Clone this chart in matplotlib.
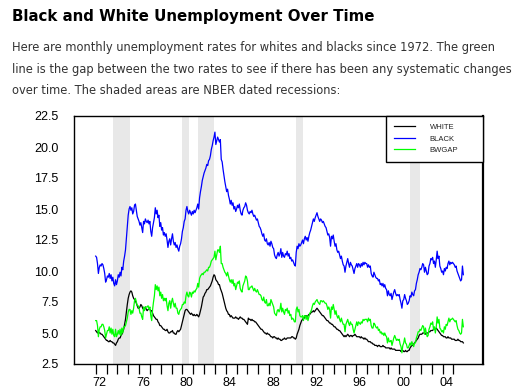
import numpy as np
import pandas as pd
import matplotlib
matplotlib.use("Agg")
import matplotlib.pyplot as plt
import matplotlib.transforms as mtrans

#%% data (monthly rates, Jan 1972 - Dec 2005)
white = [
    5.2, 5.1, 5.0, 5.1, 5.0, 5.0, 4.9, 4.9, 4.8, 4.7, 4.6, 4.5,
    4.4, 4.4, 4.3, 4.3, 4.4, 4.3, 4.3, 4.2, 4.2, 4.1, 4.0, 4.2,
    4.3, 4.5, 4.6, 4.6, 4.8, 4.9, 5.1, 5.3, 5.7, 6.1, 6.7, 7.3,
    7.8, 8.1, 8.3, 8.4, 8.3, 8.0, 7.8, 7.7, 7.6, 7.4, 7.2, 7.0,
    7.0, 7.1, 7.3, 7.2, 7.0, 6.9, 7.0, 7.1, 6.9, 6.8, 6.9, 6.9,
    6.9, 6.8, 6.8, 6.6, 6.4, 6.3, 6.2, 6.1, 6.1, 5.9, 5.8, 5.6,
    5.6, 5.5, 5.4, 5.3, 5.3, 5.2, 5.2, 5.3, 5.1, 5.0, 5.0, 5.1,
    5.1, 5.2, 5.0, 5.0, 4.9, 4.9, 5.1, 5.2, 5.1, 5.2, 5.3, 5.6,
    5.9, 6.2, 6.5, 6.8, 6.9, 6.9, 6.8, 6.7, 6.6, 6.5, 6.6, 6.5,
    6.4, 6.5, 6.4, 6.4, 6.5, 6.4, 6.3, 6.5, 6.8, 7.1, 7.5, 7.9,
    8.0, 8.2, 8.3, 8.5, 8.5, 8.6, 8.7, 8.8, 9.0, 9.2, 9.5, 9.7,
    9.6, 9.3, 9.2, 9.1, 8.9, 8.9, 8.6, 8.4, 8.2, 7.9, 7.6, 7.3,
    7.0, 6.8, 6.7, 6.5, 6.5, 6.3, 6.4, 6.3, 6.2, 6.2, 6.2, 6.3,
    6.2, 6.2, 6.1, 6.2, 6.3, 6.2, 6.2, 6.1, 6.1, 6.0, 5.9, 5.8,
    5.7, 6.2, 6.1, 6.1, 6.0, 6.1, 6.0, 6.0, 5.9, 5.9, 5.8, 5.7,
    5.6, 5.5, 5.4, 5.3, 5.3, 5.2, 5.1, 5.0, 5.0, 4.9, 5.0, 4.9,
    4.9, 4.8, 4.7, 4.7, 4.6, 4.7, 4.7, 4.6, 4.6, 4.5, 4.6, 4.5,
    4.5, 4.4, 4.4, 4.5, 4.5, 4.6, 4.5, 4.5, 4.6, 4.6, 4.6, 4.6,
    4.6, 4.7, 4.7, 4.6, 4.6, 4.5, 4.6, 4.9, 5.1, 5.3, 5.6, 5.8,
    6.0, 6.1, 6.2, 6.2, 6.4, 6.4, 6.3, 6.4, 6.5, 6.5, 6.6, 6.7,
    6.7, 6.8, 6.7, 6.8, 6.9, 7.0, 6.9, 6.8, 6.7, 6.6, 6.5, 6.4,
    6.4, 6.3, 6.2, 6.1, 6.0, 6.0, 5.9, 5.8, 5.8, 5.7, 5.7, 5.6,
    5.5, 5.5, 5.4, 5.3, 5.3, 5.2, 5.2, 5.1, 5.0, 4.9, 4.8, 4.7,
    4.8, 4.7, 4.8, 4.9, 4.8, 4.7, 4.8, 4.8, 4.7, 4.8, 4.8, 4.9,
    4.8, 4.7, 4.7, 4.7, 4.7, 4.6, 4.7, 4.6, 4.6, 4.5, 4.6, 4.5,
    4.5, 4.4, 4.3, 4.3, 4.3, 4.2, 4.2, 4.1, 4.1, 4.0, 4.0, 4.0,
    3.9, 4.0, 4.0, 3.9, 3.9, 3.9, 4.0, 3.9, 3.9, 3.8, 3.8, 3.8,
    3.8, 3.8, 3.7, 3.8, 3.7, 3.7, 3.7, 3.7, 3.6, 3.6, 3.6, 3.6,
    3.6, 3.6, 3.5, 3.6, 3.6, 3.5, 3.5, 3.6, 3.5, 3.5, 3.6, 3.6,
    3.8, 3.9, 4.0, 4.0, 4.1, 4.2, 4.3, 4.4, 4.5, 4.6, 4.8, 4.9,
    4.9, 4.9, 5.0, 5.0, 5.0, 4.9, 5.0, 5.0, 5.0, 5.1, 5.1, 5.2,
    5.2, 5.2, 5.3, 5.3, 5.3, 5.4, 5.3, 5.2, 5.1, 5.0, 4.9, 4.8,
    4.8, 4.7, 4.7, 4.7, 4.6, 4.6, 4.7, 4.6, 4.6, 4.6, 4.5, 4.5,
    4.5, 4.5, 4.4, 4.4, 4.4, 4.5, 4.4, 4.4, 4.3, 4.3, 4.3, 4.2,
]

black = [
    11.2, 11.1, 10.6, 9.8, 10.3, 10.5, 10.4, 10.6, 10.5, 10.2, 9.8, 9.1,
    9.3, 9.6, 9.5, 9.8, 9.4, 9.7, 9.2, 9.5, 9.0, 8.8, 9.3, 8.9,
    9.2, 9.7, 9.5, 9.9, 9.6, 10.3, 10.1, 10.8, 11.2, 11.7, 12.6, 13.5,
    14.5, 15.0, 15.2, 14.9, 15.1, 14.6, 14.8, 15.3, 15.4, 14.9, 14.4, 14.2,
    14.0, 13.7, 13.9, 13.5, 13.1, 14.0, 13.8, 14.2, 14.0, 13.9, 14.1, 13.8,
    14.0, 13.2, 12.8, 13.5, 13.9, 14.3, 15.1, 14.6, 14.9, 14.3, 14.5, 13.6,
    13.9, 13.3, 13.5, 12.9, 13.1, 12.8, 13.0, 12.5, 11.9, 12.4, 12.6, 12.1,
    12.6, 13.0, 12.4, 12.1, 12.3, 11.9, 12.1, 11.8, 11.6, 12.0, 12.2, 12.6,
    13.2, 13.5, 14.0, 14.2, 14.9, 15.2, 14.8, 14.6, 14.9, 14.7, 14.5, 14.8,
    14.6, 14.9, 14.7, 14.9, 15.1, 15.4, 15.0, 15.9, 16.4, 16.8, 17.3, 17.6,
    17.9, 18.1, 18.3, 18.6, 18.5, 18.9, 19.0, 19.3, 19.8, 20.1, 20.5, 20.8,
    21.2, 20.2, 20.5, 20.8, 20.6, 20.4, 20.6, 19.0, 18.8, 18.2, 17.7, 17.2,
    16.8, 16.4, 16.6, 16.1, 15.8, 15.4, 15.7, 15.3, 15.5, 15.0, 15.2, 14.8,
    15.0, 15.3, 15.1, 15.4, 14.9, 14.6, 14.5, 14.9, 15.1, 15.2, 15.5, 15.3,
    14.9, 14.7, 14.6, 14.8, 14.7, 14.9, 14.6, 14.4, 14.5, 14.3, 14.1, 14.2,
    13.9, 13.6, 13.5, 13.3, 13.0, 12.8, 13.0, 12.5, 12.4, 12.6, 12.2, 12.1,
    12.3, 12.0, 12.4, 12.2, 11.9, 11.8, 11.3, 11.1, 11.0, 11.3, 11.5, 11.2,
    11.4, 11.8, 11.1, 11.5, 11.2, 11.1, 11.4, 11.3, 11.6, 11.2, 11.4, 11.0,
    11.1, 10.8, 10.9, 10.7, 10.5, 10.4, 11.5, 12.0, 11.8, 12.2, 12.0, 12.1,
    12.3, 12.5, 12.2, 12.6, 12.8, 12.5, 12.7, 12.4, 12.8, 13.1, 13.3, 13.6,
    13.9, 14.2, 14.0, 14.3, 14.5, 14.7, 14.4, 14.2, 14.0, 14.2, 14.1, 13.9,
    14.0, 13.8, 13.6, 13.5, 13.2, 12.9, 13.0, 12.7, 12.0, 12.8, 12.6, 12.9,
    12.4, 12.0, 12.2, 11.7, 11.5, 11.6, 11.3, 11.0, 11.2, 10.8, 10.5, 10.4,
    9.9, 10.4, 10.7, 11.0, 10.6, 10.3, 10.7, 10.5, 10.4, 10.1, 9.8, 10.2,
    10.4, 10.6, 10.3, 10.6, 10.5, 10.3, 10.6, 10.4, 10.7, 10.5, 10.7, 10.6,
    10.6, 10.3, 10.5, 10.3, 10.4, 9.8, 9.6, 9.5, 9.9, 9.7, 9.5, 9.4,
    9.4, 9.2, 9.3, 8.9, 9.0, 8.8, 9.0, 8.7, 8.9, 8.6, 8.5, 8.0,
    8.4, 8.1, 8.0, 8.2, 7.7, 8.0, 8.3, 8.5, 8.2, 8.0, 8.1, 8.0,
    8.1, 7.7, 7.4, 7.0, 7.6, 7.7, 8.1, 7.8, 7.6, 7.3, 7.4, 7.6,
    8.0, 7.9, 8.3, 8.1, 8.0, 8.4, 8.5, 9.0, 9.3, 9.7, 9.9, 10.2,
    10.1, 10.3, 10.6, 10.5, 9.9, 10.3, 10.0, 9.7, 9.8, 10.4, 10.6, 11.0,
    10.9, 11.1, 10.6, 10.8, 10.3, 10.9, 11.6, 11.0, 11.2, 10.4, 10.2, 9.9,
    10.0, 9.7, 10.2, 10.0, 10.3, 10.2, 10.6, 10.8, 10.5, 10.7, 10.6, 10.7,
    10.6, 10.5, 10.3, 10.4, 10.0, 9.8, 9.6, 9.4, 9.2, 9.3, 10.4, 9.7,
]

# NBER recessions as drawn (decimal years)
recessions = [(1973.6, 1975.2), (1979.95, 1980.65), (1981.47, 1982.92),
              (1990.45, 1991.16), (2000.97, 2001.95)]

year_ticks = list(range(1972, 2006))
label_years = list(range(1972, 2006, 4))
y_ticks = [2.5, 5.0, 7.5, 10.0, 12.5, 15.0, 17.5, 20.0, 22.5]

#%% series
dates = pd.date_range("1972-01-01", periods=len(white), freq="MS")
t = dates.year + (dates.month - 1) / 12.0
white = np.array(white)
black = np.array(black)
bwgap = black - white

#%% figure
W, H = 519, 391
fig = plt.figure(figsize=(W / 100, H / 100), dpi=100)
fig.patch.set_facecolor("white")

fig.text(12 / W, 1 - 16 / H, "Black and White Unemployment Over Time",
         fontsize=10.8, fontweight="bold", family="DejaVu Sans",
         color="black", va="center", ha="left")
para = ["Here are monthly unemployment rates for whites and blacks since 1972. The green",
        "line is the gap between the two rates to see if there has been any systematic changes",
        "over time. The shaded areas are NBER dated recessions:"]
for i, line in enumerate(para):
    fig.text(12 / W, 1 - (48 + 21 * i) / H, line, fontsize=8.3,
             family="DejaVu Sans", color="#333333", va="center", ha="left")

left, right, top, bottom = 74, 483, 116, 364
ax = fig.add_axes([left / W, 1 - bottom / H, (right - left) / W, (bottom - top) / H])

for a, b in recessions:
    ax.axvspan(a, b, color="#e8e8e8", lw=0, zorder=0)

ax.plot(t, white, color="black", lw=0.9, label="WHITE")
ax.plot(t, black, color="#0000ff", lw=0.9, label="BLACK")
ax.plot(t, bwgap, color="#00ff00", lw=0.9, label="BWGAP")

ax.set_xlim(1970.0, 2007.73)
ax.set_ylim(2.5, 22.5)
ax.set_yticks(y_ticks)
ax.set_yticklabels([f"{v:.1f}" for v in y_ticks])
ax.set_xticks(year_ticks)
ax.set_xticklabels([str(y)[2:] if y in label_years else "" for y in year_ticks])

ax.tick_params(axis="y", length=0, pad=11, labelsize=9)
ax.tick_params(axis="x", length=7.5, width=0.9, direction="out", pad=2, labelsize=9)
offset = mtrans.ScaledTranslation(4 / 100, 0, fig.dpi_scale_trans)
for lab in ax.get_xticklabels():
    lab.set_transform(lab.get_transform() + offset)
    lab.set_family("Liberation Sans")
for lab in ax.get_yticklabels():
    lab.set_family("Liberation Sans")

for side in ["left", "bottom", "top"]:
    ax.spines[side].set_linewidth(1.0)
ax.spines["right"].set_linewidth(1.6)

# legend box in the top right corner
bx0 = (386 - left) / (right - left)
leg = ax.legend(loc="upper left", bbox_to_anchor=(bx0, 1.0, 1.0 - bx0, 0.0),
                mode="expand", fancybox=False, edgecolor="black", framealpha=1,
                fontsize=5.5, handlelength=2.8, handletextpad=1.9,
                borderpad=1.0, labelspacing=0.55, borderaxespad=0)
leg.get_frame().set_linewidth(1.0)
for txt in leg.get_texts():
    txt.set_family("Liberation Sans")
    txt.set_color("#222222")

fig.savefig("out.png", dpi=100)
